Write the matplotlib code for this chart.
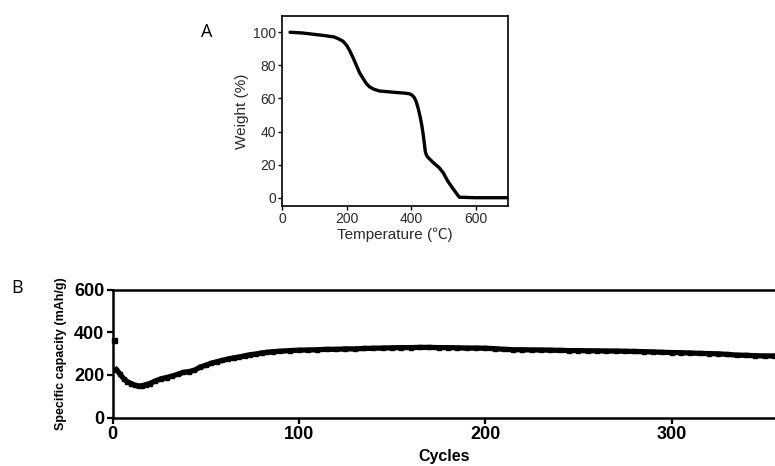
import matplotlib
matplotlib.use("Agg")
import matplotlib.pyplot as plt

# ---- Panel A data (TGA) ----
temp_c = [24, 60, 96, 130, 160, 175, 189, 200, 209, 220, 230, 240, 251, 261, 271, 285,
          302, 330, 354, 380, 395, 403, 410, 416, 422, 428, 433, 437, 441, 444, 448,
          452, 457, 470, 488, 500, 514, 530, 545, 550, 600, 700]
weight_pct = [100, 99.6, 98.8, 98, 97.2, 96, 94.5, 92, 89, 84.5, 80, 75.5, 72, 69, 67,
              65.5, 64.5, 64, 63.6, 63.2, 62.8, 62, 60.5, 58, 54, 49, 44, 39, 33, 28,
              25.5, 24.5, 23.5, 21, 18, 15, 10, 5.5, 1.5, 0.3, 0, 0]
a_xticks = [0, 200, 400, 600]
a_yticks = [0, 20, 40, 60, 80, 100]

# ---- Panel B data (cycling) ----
first_cycle = [1]
first_capacity = [364]
cycles = [2, 4, 6, 8, 10, 12, 14, 16, 18, 20, 23, 26, 29, 32, 35, 38, 41, 44, 47, 50,
          53, 56, 59, 62, 65, 68, 71, 74, 77, 80, 83, 86, 90, 95, 100, 105, 110, 115,
          120, 125, 130, 135, 140, 145, 150, 155, 160, 165, 170, 175, 180, 185, 190,
          195, 200, 205, 210, 215, 220, 225, 230, 235, 240, 245, 250, 255, 260, 265,
          270, 275, 280, 285, 290, 295, 300, 305, 310, 315, 320, 325, 330, 335, 340,
          345, 350, 355]
capacity = [225, 205, 182, 168, 160, 152, 148, 150, 155, 160, 172, 182, 188, 195, 203,
            212, 216, 222, 237, 245, 255, 262, 268, 275, 280, 284, 290, 295, 298, 303,
            306, 309, 311, 314, 316, 317, 318, 320, 320, 322, 322, 324, 325, 326, 327,
            328, 328, 329, 329, 328, 328, 327, 326, 326, 325, 323, 320, 318, 318, 317,
            317, 316, 315, 314, 314, 313, 313, 312, 312, 311, 310, 309, 308, 306, 305,
            304, 303, 301, 300, 299, 296, 293, 292, 290, 289, 289]
b_xticks = [0, 100, 200, 300]
b_yticks = [0, 200, 400, 600]

W, H = 775, 466
fig = plt.figure(figsize=(W / 100, H / 100), dpi=100)

sans = ["Liberation Sans", "DejaVu Sans"]
textgrey = "#2a2a2a"

# ---------- Panel A ----------
axA = fig.add_axes([282.3 / W, 1 - 206 / H, 225.4 / W, (206 - 15.7) / H])
axA.plot(temp_c, weight_pct, color="black", lw=2.4, solid_capstyle="round",
         solid_joinstyle="round")
axA.set_xlim(0, 700)
axA.set_ylim(-5, 110)
axA.set_xticks(a_xticks)
axA.set_yticks(a_yticks)
for s in axA.spines.values():
    s.set_linewidth(1.2)
axA.tick_params(direction="out", length=3, width=1.0, labelsize=10, pad=1.5,
                colors="black", labelcolor=textgrey)
for lab in axA.get_xticklabels() + axA.get_yticklabels():
    lab.set_family(sans)
axA.set_xlabel("Temperature (℃)", fontsize=11,
               family=["Liberation Sans", "Noto Sans CJK SC", "DejaVu Sans"],
               labelpad=1, color=textgrey)
axA.set_ylabel("Weight (%)", fontsize=11, family=sans, labelpad=3, color=textgrey)
fig.text(206.7 / W, 1 - 31.7 / H, "A", fontsize=13, family=["Open Sans", "DejaVu Sans"],
         ha="center", va="center")

# ---------- Panel B ----------
axB = fig.add_axes([112.5 / W, 1 - 417.7 / H, 1 - 112.5 / W, (417.7 - 289.5) / H])
axB.plot(cycles, capacity, color="black", lw=3.8, marker="s", markersize=3.2,
         solid_joinstyle="round")
axB.plot(first_cycle, first_capacity, color="black", lw=0, marker="s", markersize=3.6,
         clip_on=False)
axB.set_xlim(0, 355.5)
axB.set_ylim(0, 600)
axB.set_xticks(b_xticks)
axB.set_yticks(b_yticks)
axB.spines["right"].set_visible(False)
for k in ["left", "top", "bottom"]:
    axB.spines[k].set_linewidth(1.8)
axB.tick_params(direction="out", length=4, width=1.6, labelsize=13, pad=2)
for lab in axB.get_xticklabels() + axB.get_yticklabels():
    lab.set_family(sans)
    lab.set_fontweight("bold")
axB.set_xlabel("Cycles", fontsize=11.5, family=sans, fontweight="bold", labelpad=4)
axB.set_ylabel("Specific capacity (mAh/g)", fontsize=9, family=sans,
               fontweight="bold", labelpad=5)
fig.text(17.5 / W, 1 - 288.3 / H, "B", fontsize=13, family=["Open Sans", "DejaVu Sans"],
         ha="center", va="center")

fig.savefig("out.png", dpi=100)
